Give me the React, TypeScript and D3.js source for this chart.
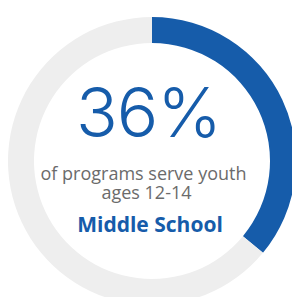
import * as d3 from 'd3';
import { useEffect, useRef } from 'react';

const segments = ['Middle School', 'Other'];
const shares = [36, 64];
const segmentColors = ['#165caa', '#eeeeee'];
const headline = '36%';
const captionLines = ['of programs serve youth', 'ages 12-14'];
const label = 'Middle School';

export default function App() {
    const ref = useRef<SVGSVGElement>(null);

    useEffect(() => {
        const width = 292;
        const height = 297;
        const cx = 152;
        const cy = 161;
        const outer = 144;
        const inner = 118;

        const svg = d3.select(ref.current);
        svg.selectAll('*').remove();

        const pie = d3.pie<number>().sort(null).value(d => d);
        const arc = d3.arc<d3.PieArcDatum<number>>()
            .innerRadius(inner)
            .outerRadius(outer);

        const color = d3.scaleOrdinal<string, string>().domain(segments).range(segmentColors);

        const g = svg.append('g').attr('transform', `translate(${cx},${cy})`);

        g.selectAll('path')
            .data(pie(shares))
            .join('path')
            .attr('d', arc)
            .attr('fill', (d, i) => color(segments[i]));

        svg.append('text')
            .attr('x', 148.5)
            .attr('y', 137)
            .attr('text-anchor', 'middle')
            .attr('font-family', 'Inter')
            .attr('font-weight', 300)
            .attr('font-size', 69)
            .attr('letter-spacing', -1)
            .attr('fill', segmentColors[0])
            .text(headline);

        // caption as one text block with two lines
        const caption = svg.append('text')
            .attr('text-anchor', 'middle')
            .attr('font-family', 'Open Sans')
            .attr('font-size', 18)
            .attr('fill', '#6b6b6b');

        caption.selectAll('tspan')
            .data(captionLines)
            .join('tspan')
            .attr('x', (d, i) => (i === 0 ? 143.5 : 146.5))
            .attr('y', (d, i) => 180 + i * 19)
            .text(d => d);

        svg.append('text')
            .attr('x', 150)
            .attr('y', 232)
            .attr('text-anchor', 'middle')
            .attr('font-family', 'Open Sans')
            .attr('font-weight', 700)
            .attr('font-size', 21)
            .attr('fill', segmentColors[0])
            .text(label);

        svg.attr('width', width).attr('height', height);
    }, []);

    return (
        <svg
            ref={ref}
            width={292}
            height={297}
            style={{ position: 'absolute', left: 0, top: 0, background: '#fff' }}
        />
    );
}
